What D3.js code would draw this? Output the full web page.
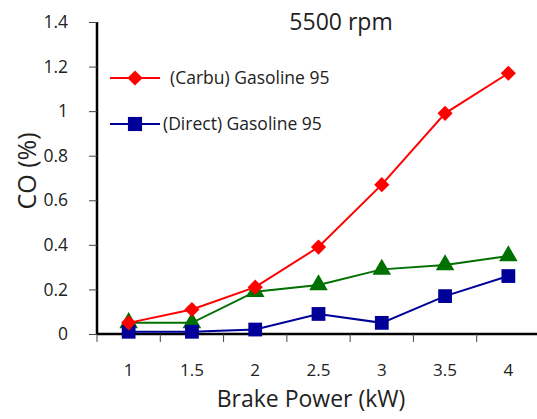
<!DOCTYPE html>
<html>
<head>
<meta charset="utf-8">
<script src="https://cdn.jsdelivr.net/npm/d3@7"></script>
<style>
  body { margin: 0; background: #fff; }
  text { font-family: "Open Sans", "Noto Sans", sans-serif; fill: #222; }
</style>
</head>
<body>
<div id="chart"></div>
<script>
let categories = ['1', '1.5', '2', '2.5', '3', '3.5', '4'];
let carbu = [0.05, 0.11, 0.21, 0.39, 0.67, 0.99, 1.17];
let other = [0.05, 0.05, 0.19, 0.22, 0.29, 0.31, 0.35];
let direct = [0.01, 0.01, 0.02, 0.09, 0.05, 0.17, 0.26];
let yTicks = [0, 0.2, 0.4, 0.6, 0.8, 1, 1.2, 1.4];

let width = 537, height = 419;
let svg = d3.select('#chart').append('svg')
  .attr('width', width).attr('height', height);

let x = d3.scaleBand().domain(categories).range([97, 540]);
let y = d3.scaleLinear().domain([0, 1.4]).range([334, 22]);

// y axis
let yAxis = svg.append('g').attr('transform', 'translate(97,0)')
  .call(d3.axisLeft(y).tickValues(yTicks).tickFormat(d3.format('')).tickSize(8).tickPadding(21));
yAxis.select('.domain').attr('stroke', '#000').attr('stroke-width', 2.5).attr('d', 'M0,22V334');
yAxis.selectAll('line').attr('stroke', '#444').attr('stroke-width', 1);
yAxis.selectAll('text').style('font-size', '17.5px').attr('fill', '#222');

// x axis, ticks between categories
let xAxis = svg.append('g').attr('transform', 'translate(0,334)');
xAxis.append('line').attr('x1', 97).attr('x2', 540).attr('stroke', '#000').attr('stroke-width', 2.5);
xAxis.selectAll('.tk').data(categories).enter().append('line')
  .attr('x1', d => x(d)).attr('x2', d => x(d))
  .attr('y1', 0).attr('y2', 8).attr('stroke', '#444');
xAxis.selectAll('.lbl').data(categories).enter().append('text')
  .attr('x', d => x(d) + x.bandwidth() / 2).attr('y', 42)
  .attr('text-anchor', 'middle').style('font-size', '17px').text(d => d);

let cx = d => x(d) + x.bandwidth() / 2;

function drawSeries(values, color, shape, size) {
  let line = d3.line().x((v, i) => cx(categories[i])).y(v => y(v));
  svg.append('path').datum(values).attr('d', line)
    .attr('fill', 'none').attr('stroke', color).attr('stroke-width', 2);
  svg.selectAll(null).data(values).enter().append('path')
    .attr('transform', (v, i) => 'translate(' + cx(categories[i]) + ',' + y(v) + ')')
    .attr('d', d3.symbol().type(shape).size(size))
    .attr('fill', color);
}

let diamond = {
  draw: function(ctx, size) {
    let r = Math.sqrt(size) / 2 * 1.1;
    ctx.moveTo(0, -r); ctx.lineTo(r, 0); ctx.lineTo(0, r); ctx.lineTo(-r, 0); ctx.closePath();
  }
};

drawSeries(other, '#007000', d3.symbolTriangle, 150);
drawSeries(direct, '#000099', d3.symbolSquare, 190);
drawSeries(carbu, '#ff0000', diamond, 190);

// legend
let legend = svg.append('g');
legend.append('line').attr('x1', 110).attr('x2', 160).attr('y1', 78).attr('y2', 78)
  .attr('stroke', '#ff0000').attr('stroke-width', 2);
legend.append('path').attr('transform', 'translate(135,78)')
  .attr('d', d3.symbol().type(diamond).size(190)).attr('fill', '#ff0000');
legend.append('text').attr('x', 170).attr('y', 84).style('font-size', '17.5px')
  .text('(Carbu) Gasoline 95');
legend.append('line').attr('x1', 110).attr('x2', 160).attr('y1', 124).attr('y2', 124)
  .attr('stroke', '#000099').attr('stroke-width', 2);
legend.append('path').attr('transform', 'translate(135,124)')
  .attr('d', d3.symbol().type(d3.symbolSquare).size(200)).attr('fill', '#000099');
legend.append('text').attr('x', 163).attr('y', 130).style('font-size', '17.5px')
  .text('(Direct) Gasoline 95');

// titles
svg.append('text').attr('x', 341).attr('y', 30).attr('text-anchor', 'middle')
  .style('font-size', '23px').text('5500 rpm');
svg.append('text').attr('x', 311).attr('y', 407).attr('text-anchor', 'middle')
  .style('font-size', '23px').text('Brake Power (kW)');
svg.append('text').attr('transform', 'translate(36,171) rotate(-90)')
  .attr('text-anchor', 'middle').style('font-size', '25px').text('CO (%)');
</script>
</body>
</html>
